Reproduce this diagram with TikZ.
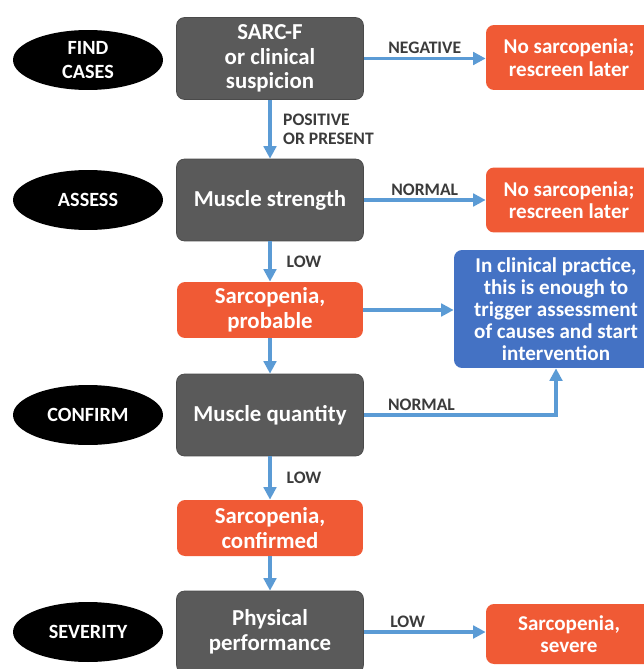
\documentclass[tikz,border=0pt]{standalone}
\usepackage{fontspec}
\setmainfont{Carlito}
\usetikzlibrary{
  arrows.meta,
  positioning,
  shapes.geometric
}
\definecolor{ink}{HTML}{3B3B3B}
\definecolor{stagegrey}{HTML}{5A5A5A}
\definecolor{stageedge}{HTML}{4A4A4A}
\definecolor{alert}{HTML}{F05A35}
\definecolor{note}{HTML}{4472C4}
\definecolor{flowblue}{HTML}{5B9BD5}
\newcommand{\sz}[2]{\fontsize{#1}{#2}\selectfont\bfseries}
\tikzset{
  flow/.style={
    -{Triangle[length=2.5mm,width=2.5mm]},
    line width=2pt,
    draw=flowblue
  },
  flowlabel/.style={
    text=ink,
    inner sep=1.5pt,
    font=\sz{10pt}{11pt},
    align=left
  },
  phase/.style={
    ellipse,
    fill=black,
    text=white,
    minimum width=3cm,
    minimum height=1.2cm,
    inner sep=0pt,
    align=center,
    font=\sz{11.5pt}{13.6pt}
  },
  stage/.style={
    draw=stageedge,
    fill=stagegrey,
    text=white,
    rounded corners=1.6mm,
    minimum width=3.74cm,
    minimum height=1.64cm,
    align=center,
    font=\sz{13pt}{14pt}
  },
  outcome/.style={
    fill=alert,
    text=white,
    rounded corners=1.6mm,
    minimum width=3.72cm,
    minimum height=1.12cm,
    align=center,
    font=\sz{13pt}{14pt}
  },
  sideout/.style={
    fill=alert,
    text=white,
    rounded corners=1.6mm,
    minimum width=3.32cm,
    minimum height=1.3cm,
    align=center,
    font=\sz{12pt}{12.8pt}
  },
  advice/.style={
    fill=note,
    text=white,
    rounded corners=1.6mm,
    minimum width=4.08cm,
    minimum height=2.36cm,
    align=center,
    font=\sz{12pt}{12.5pt}
  }
}
\begin{document}
\begin{tikzpicture}[x=0.02cm, y=-0.02cm]
  \fill[white] (0,0) rectangle (644,669);
  \clip (0,0) rectangle (644,669);
  % phases
  \node[phase] (find) at (88,60) {FIND\\CASES};
  \node[phase] (assess) at (88,200) {ASSESS};
  \node[phase] (confirm) at (88,415) {CONFIRM};
  \node[phase] (severity) at (88,632) {SEVERITY};
  % main column
  \node[stage] (sarcf) at (270,58.5) {SARC-F\\or clinical\\suspicion};
  \node[stage] (strength) at (270,200) {Muscle strength};
  \node[outcome] (probable) at (270,310) {Sarcopenia,\\probable};
  \node[stage] (quantity) at (270,415) {Muscle quantity};
  \node[outcome] (confirmed) at (270,528) {Sarcopenia,\\confirmed};
  \node[stage] (perf) at (270,632) {Physical\\performance};
  % right column
  \node[sideout] (nosarc1) at (569,57.5) {No sarcopenia;\\rescreen later};
  \node[sideout] (nosarc2) at (569,200) {No sarcopenia;\\rescreen later};
  \node[advice] (practice) at (556,309) {In clinical practice,\\this is enough to\\trigger assessment\\of causes and start\\intervention};
  \node[sideout, minimum height=1.2cm] (severe) at (569,634) {Sarcopenia,\\severe};
  % connectors
  \draw[flow] (sarcf.east) -- (sarcf.east -| nosarc1.west)
    node[flowlabel, midway, above] {NEGATIVE};
  \draw[flow] (sarcf) -- (strength)
    node[flowlabel, midway, right=5pt] {POSITIVE\\OR PRESENT};
  \draw[flow] (strength) -- (nosarc2)
    node[flowlabel, midway, above] {NORMAL};
  \draw[flow] (strength) -- (probable)
    node[flowlabel, midway, right=7pt] {LOW};
  \draw[flow] (probable.east) -- (probable.east -| practice.west);
  \draw[flow] (probable) -- (quantity);
  \draw[flow] (quantity.east) -| (practice.south)
    node[flowlabel, pos=0.15, above] {NORMAL};
  \draw[flow] (quantity) -- (confirmed)
    node[flowlabel, midway, right=7pt] {LOW};
  \draw[flow] (confirmed) -- (perf);
  \draw[flow] (perf.east) -- (perf.east -| severe.west)
    node[flowlabel, pos=0.36, above] {LOW};
\end{tikzpicture}
\end{document}
